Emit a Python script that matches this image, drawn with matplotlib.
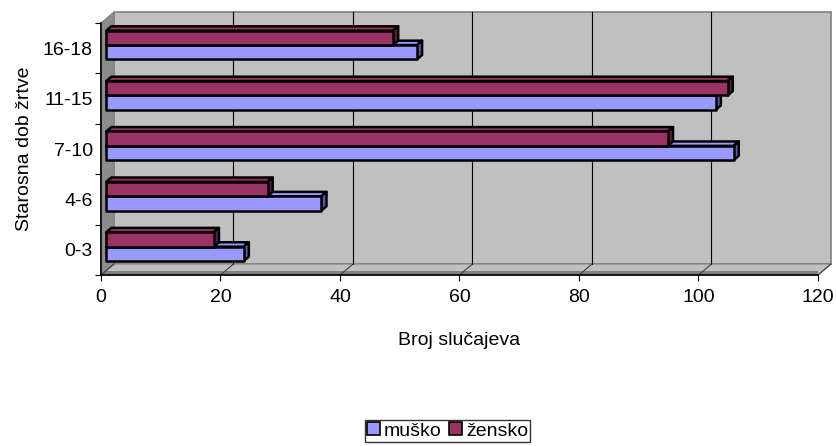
import numpy as np
import matplotlib.pyplot as plt
from matplotlib.patches import Polygon, Patch

plt.rcParams['font.family'] = ['Liberation Sans', 'DejaVu Sans']

# podaci
kategorije = ["0-3", "4-6", "7-10", "11-15", "16-18"]
musko = [23, 36, 105, 102, 52]
zensko = [18, 27, 94, 104, 48]
x_ticks = [0, 20, 40, 60, 80, 100, 120]

boja_m = "#9999FF"
boja_m_tamna = "#5A5AB4"
boja_z = "#993366"
boja_z_tamna = "#5E1F3F"
FS = 14

fig = plt.figure(figsize=(8.37, 4.46), dpi=100)
W, H = 837, 446
ax = fig.add_axes([101 / W, 1 - 275 / H, 717 / W, 252 / H])
ax.set_xlim(0, 120)
ax.set_ylim(0, 5)

# 3D pomak dubine (u jedinicama podataka)
DX = 13 / 717 * 120
DY = 11 / 252 * 5
XMAX = 120
YMAX = 5


def poly(pts, **kw):
    p = Polygon(pts, closed=True, clip_on=False, **kw)
    ax.add_patch(p)
    return p


# zidovi i pod
poly([(DX, DY), (XMAX + DX, DY), (XMAX + DX, YMAX + DY), (DX, YMAX + DY)],
     facecolor="#C0C0C0", edgecolor="#808080", lw=1.2, zorder=1)
poly([(0, 0), (XMAX, 0), (XMAX + DX, DY), (DX, DY)],
     facecolor="#C0C0C0", edgecolor="#808080", lw=0.8, zorder=1)
poly([(0, 0), (XMAX, 0), (XMAX, 0.07), (0, 0.07)],
     facecolor="#808080", edgecolor="none", zorder=1)
poly([(0, 0), (DX, DY), (DX, YMAX + DY), (0, YMAX)],
     facecolor="#8C8C8C", edgecolor="#808080", lw=0.8, zorder=1)

# mreža na stražnjem zidu i kose crte na podu
for v in x_ticks:
    if 0 < v < XMAX:
        ax.plot([v + DX, v + DX], [DY, YMAX + DY], color="black", lw=0.8,
                zorder=2, clip_on=False)
    ax.plot([v, v + DX], [0, DY], color="#404040", lw=0.8, zorder=2,
            clip_on=False)

# 3D trake
d0, d1 = 0.4, 0.8
h = 0.285


def traka(v, y0, boja, tamna):
    ox0, oy0 = d0 * DX, d0 * DY
    ox1, oy1 = d1 * DX, d1 * DY
    y1 = y0 + h
    # gornja ploha
    poly([(ox0, y1 + oy0), (v + ox0, y1 + oy0), (v + ox1, y1 + oy1), (ox1, y1 + oy1)],
         facecolor=boja, edgecolor="black", lw=1.8, zorder=3, joinstyle="round")
    # desni kraj
    poly([(v + ox0, y0 + oy0), (v + ox1, y0 + oy1), (v + ox1, y1 + oy1), (v + ox0, y1 + oy0)],
         facecolor=tamna, edgecolor="black", lw=1.8, zorder=3, joinstyle="round")
    # prednja ploha
    poly([(ox0, y0 + oy0), (v + ox0, y0 + oy0), (v + ox0, y1 + oy0), (ox0, y1 + oy0)],
         facecolor=boja, edgecolor="black", lw=1.8, zorder=3, joinstyle="round")


for i in range(len(kategorije)):
    c = i + 0.475
    traka(musko[i], c - h, boja_m, boja_m_tamna)
    traka(zensko[i], c, boja_z, boja_z_tamna)

# osi
for s in ["top", "right"]:
    ax.spines[s].set_visible(False)
for s in ["left", "bottom"]:
    ax.spines[s].set_color("black")
    ax.spines[s].set_linewidth(1.2)
    ax.spines[s].set_zorder(4)
ax.patch.set_visible(False)

ax.set_xticks(x_ticks)
ax.set_xticklabels([str(v) for v in x_ticks], fontsize=FS)
ax.set_yticks(np.arange(0, 6), minor=False)
ax.set_yticklabels([])
ax.set_yticks(np.arange(len(kategorije)) + 0.5, minor=True)
ax.set_yticklabels(kategorije, minor=True, fontsize=FS)
ax.tick_params(axis="y", which="minor", length=0, pad=6)
ax.tick_params(axis="y", which="major", length=4, direction="out")
ax.tick_params(axis="x", length=4, direction="out", pad=6)

ax.set_ylabel("Starosna dob žrtve", fontsize=FS, labelpad=7)
ax.set_xlabel("Broj slučajeva", fontsize=FS, labelpad=19)

handles = [Patch(facecolor=boja_m, edgecolor="black", lw=1.2, label="muško"),
           Patch(facecolor=boja_z, edgecolor="black", lw=1.2, label="žensko")]
leg = fig.legend(handles=handles, loc="lower center", bbox_to_anchor=(0.535, 0.0),
                 ncol=2, fontsize=FS, frameon=True, fancybox=False,
                 handlelength=0.65, handleheight=0.65, handletextpad=0.2,
                 columnspacing=0.4, borderpad=0.12, borderaxespad=0.2)
leg.get_frame().set_edgecolor("black")
leg.get_frame().set_linewidth(1.0)

fig.savefig("out.png", dpi=100)
